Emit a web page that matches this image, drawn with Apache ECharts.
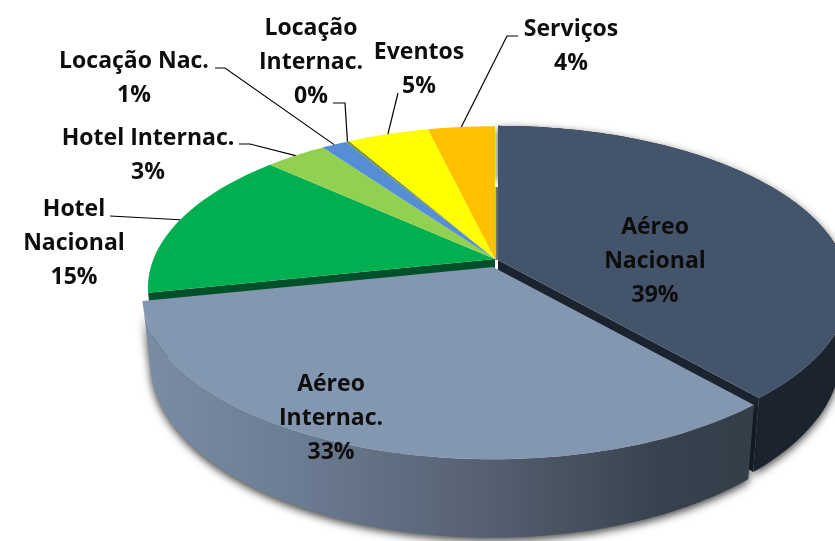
<!DOCTYPE html>
<html>
<head>
<meta charset="utf-8">
<script src="https://cdn.jsdelivr.net/npm/echarts@6/dist/echarts.min.js"></script>
<style>
  html, body { margin: 0; padding: 0; background: #fff; }
  #chart { width: 835px; height: 541px; overflow: hidden; }
</style>
</head>
<body>
<div id="chart"></div>
<script>
const categories = [
  "Aéreo\nNacional",
  "Aéreo\nInternac.",
  "Hotel\nNacional",
  "Hotel Internac.",
  "Locação Nac.",
  "Locação\nInternac.",
  "Eventos",
  "Serviços",
];
const values = [38.6, 33, 15.1, 3.4, 1.4, 0.2, 4.5, 3.7];

const topColors = ["#44546a", "#8497b0", "#00b050", "#92d050", "#558ed5", "#77933c", "#ffff00", "#ffc000"];
const wallColors = ["#1a232e", "#56606f", "#00502a", "#5a8a2a", "#2f5f9a", "#4f6228", "#a0a000", "#a07a00"];

// slice apex on screen, the two big slices are pulled out
const apexes = [[498, 260], [493, 267], [495, 259], [495, 259], [495, 259], [495, 259], [495, 259], [495, 259]];
const sliceScale = [1, 1, 0.99, 0.99, 0.99, 0.99, 0.99, 0.99];
// label anchor, and the elbow points of the leader line starting next to the label
const labelPos = [[655, 210], [331, 367], [74, 192], [148, 121], [134, 44], [311, 11], [419, 35], [571, 12]];
const leaders = [
  null,
  null,
  [[110, 216]],
  [[239, 144], [250, 144]],
  [[215, 68], [225, 68]],
  [[333, 103], [345, 103]],
  [[398, 93]],
  [[518, 36], [507, 36]],
];

// perspective of the disc: a circle tilted towards the viewer
const PERSP = 0.178, RX = 345, RY = 158;
const total = values.reduce((a, b) => a + b, 0);
let acc = 0;
const starts = values.map((v) => { const s = acc; acc += v; return s; });

function rim(frac, scale) {
  const th = frac / total * Math.PI * 2;
  const u = Math.sin(th), v = -Math.cos(th);
  const d = 1 - PERSP * v;
  return [scale * RX * u / d, scale * RY * v / d];
}
const lower = (p) => [p[0] * 0.978, p[1] * 1.08 + 63];
const at = (apex, p) => [apex[0] + p[0], apex[1] + p[1]];

function arc(from, to, scale) {
  const n = Math.max(2, Math.ceil((to - from) * 3));
  const pts = [];
  for (let i = 0; i <= n; i++) pts.push(rim(from + (to - from) * i / n, scale));
  return pts;
}

function wallFill(i) {
  if (i !== 1) return wallColors[i];
  return new echarts.graphic.LinearGradient(0, 0, 1, 0, [
    { offset: 0, color: "#7b8ca5" },
    { offset: 0.25, color: "#6c7c93" },
    { offset: 0.55, color: "#566172" },
    { offset: 0.85, color: "#38424e" },
    { offset: 1, color: "#343e49" },
  ]);
}

function renderSlice(params, api) {
  const i = params.dataIndex;
  const val = api.value(0);
  const apex = apexes[i];
  const from = starts[i], to = from + val, mid = from + val / 2;
  const pts = arc(from, to, sliceScale[i]);
  const front = i === 1 ? 10 : 0; // Aéreo Internac. lies over everything else
  const children = [];

  const a0 = [0, 0];
  if (i < 2) {
    const wallPts = pts.map((p) => at(apex, p)).concat(pts.slice().reverse().map((p) => at(apex, lower(p))));
    children.push({
      type: "polygon", z2: 1 + front,
      shape: { points: wallPts },
      style: { fill: wallFill(i), shadowBlur: 9, shadowColor: "rgba(0,0,0,0.75)", shadowOffsetY: 3 },
    });
  }
  // cut faces that can be seen: end of Aéreo Nacional, start of Hotel Nacional
  const cut = i === 0 ? pts[pts.length - 1] : i === 2 ? pts[0] : null;
  if (cut) {
    children.push({
      type: "polygon", z2: 2,
      shape: { points: [a0, cut, lower(cut), lower(a0)].map((q) => at(apex, q)) },
      style: { fill: wallColors[i] },
    });
  }
  children.push({
    type: "polygon", z2: 3 + front,
    shape: { points: [at(apex, a0)].concat(pts.map((p) => at(apex, p))) },
    style: { fill: topColors[i] },
  });

  // grey sliver seen through the gap behind Aéreo Nacional
  if (i === 0) {
    children.push({
      type: "rect", z2: 3,
      shape: { x: apex[0] - 2.5, y: apex[1] - 73, width: 2.5, height: 73 },
      style: { fill: "#707070" },
    });
  }

  if (leaders[i]) {
    const end = at(apex, rim(mid, sliceScale[i]));
    children.push({
      type: "polyline", z2: 30,
      shape: { points: leaders[i].concat([end]) },
      style: { stroke: "#000", lineWidth: 1.2, fill: null },
    });
  }
  children.push({
    type: "text", z2: 40,
    style: {
      x: labelPos[i][0], y: labelPos[i][1],
      text: categories[i] + "\n" + Math.round(val / total * 100) + "%",
      fill: "#0d0d0d",
      font: "700 23px 'Open Sans'",
      lineHeight: 34,
      align: "center",
      verticalAlign: "top",
    },
  });
  return { type: "group", children };
}

const chart = echarts.init(document.getElementById("chart"));
chart.setOption({
  animation: false,
  backgroundColor: "#ffffff",
  series: [
    {
      type: "custom",
      coordinateSystem: "none",
      silent: true,
      clip: false,
      data: values.map((v) => [v]),
      renderItem: renderSlice,
    },
  ],
});
</script>
</body>
</html>
